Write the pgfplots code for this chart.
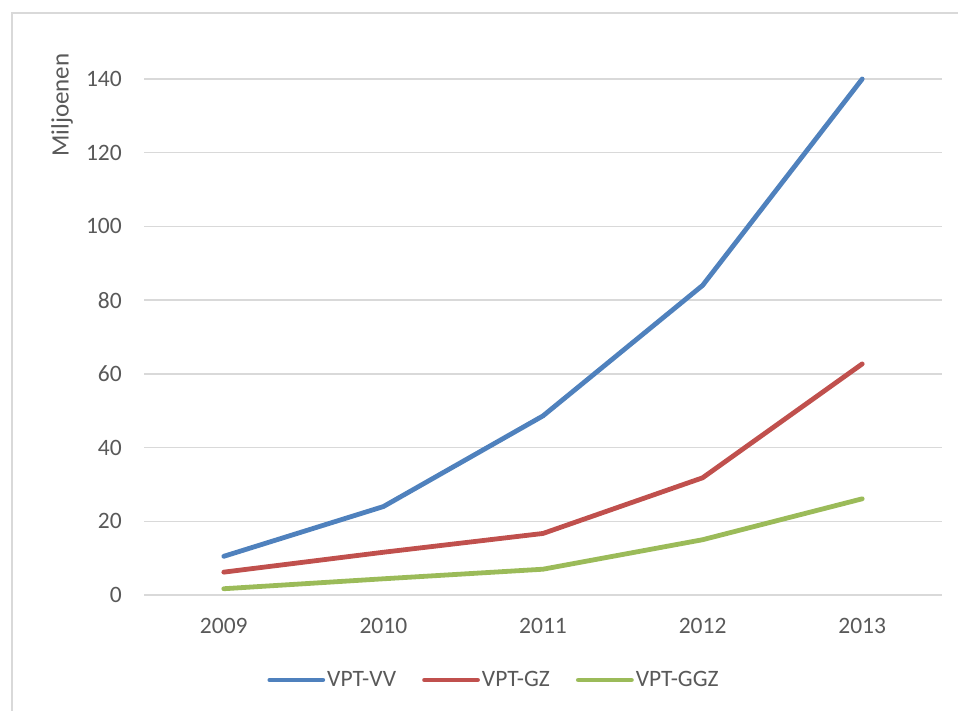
\documentclass[border=0pt]{standalone}
\usepackage{fontspec}
\setmainfont{Carlito}
\usepackage{pgfplots}
\pgfplotsset{compat=1.18}
\definecolor{vv}{HTML}{4F81BD}
\definecolor{gz}{HTML}{C0504D}
\definecolor{ggz}{HTML}{9BBB59}
\definecolor{gridc}{HTML}{D9D9D9}
\definecolor{txt}{HTML}{595959}
\begin{document}
\begin{tikzpicture}
\useasboundingbox (0pt,0pt) rectangle (958pt,-711pt);
\draw[gridc, line width=1.5pt] (12pt,-720pt) -- (12pt,-13pt) -- (970pt,-13pt);
\node[rotate=90, text=txt, font=\fontsize{25}{30}\selectfont, inner sep=0pt] at (62pt,-105pt) {Miljoenen};
\begin{axis}[
  at={(144pt,-595pt)}, anchor=south west,
  scale only axis, width=798pt, height=516pt,
  xmin=-0.5, xmax=4.5, ymin=0, ymax=140,
  clip=false,
  axis line style={draw=none},
  major tick length=0pt,
  ytick={0,20,...,140},
  xtick={0,1,2,3,4},
  xticklabels={2009,2010,2011,2012,2013},
  ymajorgrids,
  major grid style={gridc, line width=1.3pt},
  /pgf/number format/assume math mode=true,
  tick label style={text=txt, font=\fontsize{23.5}{28}\selectfont, inner sep=0pt},
  yticklabel style={anchor=east, xshift=-22pt},
  xticklabel style={anchor=north, yshift=-23pt},
  legend columns=3,
  legend style={at={(0.4386,-0.1647)}, anchor=center, draw=none, fill=none,
    font=\fontsize{23.5}{28}\selectfont, text=txt,
    nodes={inner sep=2pt},
    /tikz/every even column/.append style={column sep=24pt}},
  legend image code/.code={\draw[#1, line width=4.8pt, line cap=round] (2pt,0pt) -- (55pt,0pt);},
  every axis plot/.append style={line width=4.8pt, line cap=round, line join=round},
]
\addplot[vv] coordinates {(0,10.5) (1,24) (2,48.6) (3,84) (4,140)};
\addlegendentry{VPT-VV}
\addplot[gz] coordinates {(0,6.2) (1,11.6) (2,16.7) (3,31.8) (4,62.7)};
\addlegendentry{VPT-GZ}
\addplot[ggz] coordinates {(0,1.7) (1,4.4) (2,7.0) (3,15.0) (4,26.1)};
\addlegendentry{VPT-GGZ}
\end{axis}
\end{tikzpicture}
\end{document}
